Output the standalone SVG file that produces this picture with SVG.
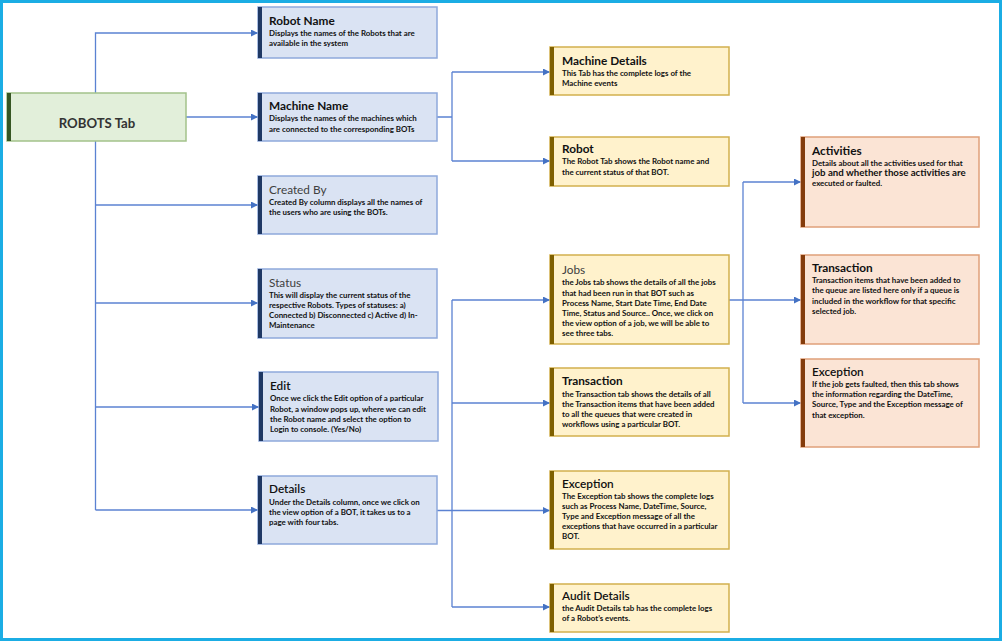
<svg xmlns="http://www.w3.org/2000/svg" width="1003" height="642" viewBox="0 0 1003 642">
<defs>
<marker id="arr" markerUnits="userSpaceOnUse" markerWidth="8" markerHeight="8" refX="7" refY="3.5" orient="auto">
<path d="M0,0 L7,3.5 L0,7 z" fill="#4472C4"/>
</marker>
<style>
.frame{fill:#fff;stroke:#1BADE4;stroke-width:3}
.c1{fill:#DAE3F3;stroke:#8EA9DB;stroke-width:1.5}
.b1{fill:#1F3864}
.c2{fill:#FFF2CC;stroke:#D2B04E;stroke-width:1.5}
.b2{fill:#7F6000}
.c3{fill:#FBE4D5;stroke:#E0A07A;stroke-width:1.5}
.b3{fill:#843C0C}
.c0{fill:#E2EFDA;stroke:#A3C28A;stroke-width:1.5}
.b0{fill:#375623}
text{font-family:Lato,"Liberation Sans",sans-serif}
.t{font-size:11.8px;font-weight:bold;fill:#111}
.tm{font-size:11.8px;font-weight:600;fill:#111}
.tg{font-size:11.8px;font-weight:normal;fill:#404040}
.d{font-size:7.9px;font-weight:bold;fill:#111}
.root{font-size:13.2px;font-weight:bold;fill:#333}
.ln{fill:none;stroke:#5B82D2;stroke-width:1.3}
.ar{fill:none;stroke:#5B82D2;stroke-width:1.3;marker-end:url(#arr)}
</style>
</defs>
<rect class="frame" x="1.5" y="1.5" width="999" height="638"/>

<g id="connectors">
<path class="ar" d="M95.5,93 V33 H258"/>
<path class="ar" d="M186,117 H258"/>
<path class="ln" d="M95.5,141 V510"/>
<path class="ar" d="M95.5,205 H258"/>
<path class="ar" d="M95.5,303 H258"/>
<path class="ar" d="M95.5,407 H259"/>
<path class="ar" d="M95.5,510 H258"/>
<path class="ln" d="M437,117 H452 M452,72 V161"/>
<path class="ar" d="M452,72 H550"/>
<path class="ar" d="M452,161 H550"/>
<path class="ln" d="M437,510.5 H452 M452,300 V607"/>
<path class="ar" d="M452,300 H550"/>
<path class="ar" d="M452,403 H550"/>
<path class="ar" d="M452,510.5 H550"/>
<path class="ar" d="M452,607 H550"/>
<path class="ar" d="M729,300 H801"/>
<path class="ln" d="M743,182 V403"/>
<path class="ar" d="M743,182 H801"/>
<path class="ar" d="M743,403 H801"/>
</g>

<g id="robots-tab">
<rect class="c0" x="7" y="93" width="179" height="48"/>
<rect class="b0" x="7" y="93" width="4" height="48"/>
<text class="root" x="97" y="128" text-anchor="middle">ROBOTS Tab</text>
</g>

<g id="robot-name">
<rect class="c1" x="258" y="7" width="179" height="51"/>
<rect class="b1" x="258" y="7" width="4" height="51"/>
<text class="t" x="269" y="25">Robot Name</text>
<text class="d" x="269" y="36">Displays the names of the Robots that are</text>
<text class="d" x="269" y="46">available in the system</text>
</g>

<g id="machine-name">
<rect class="c1" x="258" y="93" width="179" height="48"/>
<rect class="b1" x="258" y="93" width="4" height="48"/>
<text class="t" x="269" y="110">Machine Name</text>
<text class="d" x="269" y="121">Displays the names of the machines which</text>
<text class="d" x="269" y="132">are connected to the corresponding BOTs</text>
</g>

<g id="created-by">
<rect class="c1" x="258" y="176" width="179" height="58"/>
<rect class="b1" x="258" y="176" width="4" height="58"/>
<text class="tg" x="269" y="194">Created By</text>
<text class="d" x="269" y="205">Created By column displays all the names of</text>
<text class="d" x="269" y="215">the users who are using the BOTs.</text>
</g>

<g id="status">
<rect class="c1" x="258" y="269" width="179" height="69"/>
<rect class="b1" x="258" y="269" width="4" height="69"/>
<text class="tg" x="269" y="287">Status</text>
<text class="d" x="269" y="298">This will display the current status of the</text>
<text class="d" x="269" y="308">respective Robots. Types of statuses: a)</text>
<text class="d" x="269" y="318">Connected b) Disconnected c) Active d)  In-</text>
<text class="d" x="269" y="328">Maintenance</text>
</g>

<g id="edit">
<rect class="c1" x="259" y="372" width="179" height="69"/>
<rect class="b1" x="259" y="372" width="4" height="69"/>
<text class="tm" x="270" y="390">Edit</text>
<text class="d" x="270" y="401">Once we click the Edit option of a particular</text>
<text class="d" x="270" y="411.5">Robot, a window pops up, where we can edit</text>
<text class="d" x="270" y="421.5">the Robot name and select the option to</text>
<text class="d" x="270" y="432">Login to console. (Yes/No)</text>
</g>

<g id="details">
<rect class="c1" x="258" y="476" width="179" height="68"/>
<rect class="b1" x="258" y="476" width="4" height="68"/>
<text class="tm" x="269" y="493">Details</text>
<text class="d" x="269" y="505">Under the Details column, once we click on</text>
<text class="d" x="269" y="515">the view option of a BOT, it takes us to a</text>
<text class="d" x="269" y="525">page with four tabs.</text>
</g>

<g id="machine-details">
<rect class="c2" x="550" y="47" width="179" height="48"/>
<rect class="b2" x="550" y="47" width="4" height="48"/>
<text class="t" x="562" y="65">Machine Details</text>
<text class="d" x="562" y="76">This Tab has the complete logs of the</text>
<text class="d" x="562" y="86">Machine events</text>
</g>

<g id="robot">
<rect class="c2" x="550" y="137" width="179" height="49"/>
<rect class="b2" x="550" y="137" width="4" height="49"/>
<text class="t" x="562" y="153">Robot</text>
<text class="d" x="562" y="164">The Robot Tab shows the Robot name and</text>
<text class="d" x="562" y="175">the current status of that BOT.</text>
</g>

<g id="jobs">
<rect class="c2" x="550" y="255" width="179" height="89"/>
<rect class="b2" x="550" y="255" width="4" height="89"/>
<text class="tg" x="562" y="274">Jobs</text>
<text class="d" x="562" y="285">the Jobs tab shows the details of all the jobs</text>
<text class="d" x="562" y="295.5">that had been run in that BOT such as</text>
<text class="d" x="562" y="306">Process Name, Start Date Time, End Date</text>
<text class="d" x="562" y="316">Time, Status and Source.. Once, we click on</text>
<text class="d" x="562" y="326">the view option of a job, we will be able to</text>
<text class="d" x="562" y="336">see three tabs.</text>
</g>

<g id="transaction">
<rect class="c2" x="550" y="368" width="179" height="68"/>
<rect class="b2" x="550" y="368" width="4" height="68"/>
<text class="t" x="562" y="385">Transaction</text>
<text class="d" x="562" y="397">the Transaction tab shows the details of all</text>
<text class="d" x="562" y="407">the Transaction items that have been added</text>
<text class="d" x="562" y="417">to all the queues that were created in</text>
<text class="d" x="562" y="427">workflows using a particular BOT.</text>
</g>

<g id="exception">
<rect class="c2" x="550" y="471" width="179" height="78"/>
<rect class="b2" x="550" y="471" width="4" height="78"/>
<text class="tm" x="562" y="488">Exception</text>
<text class="d" x="562" y="499">The Exception tab shows the complete logs</text>
<text class="d" x="562" y="509">such as Process Name, DateTime, Source,</text>
<text class="d" x="562" y="519">Type and Exception message of all the</text>
<text class="d" x="562" y="529">exceptions that have occurred in a particular</text>
<text class="d" x="562" y="539">BOT.</text>
</g>

<g id="audit-details">
<rect class="c2" x="550" y="584" width="179" height="48"/>
<rect class="b2" x="550" y="584" width="4" height="48"/>
<text class="tm" x="562" y="600">Audit Details</text>
<text class="d" x="562" y="611">the Audit Details tab has the complete logs</text>
<text class="d" x="562" y="621">of a Robot’s events.</text>
</g>

<g id="activities">
<rect class="c3" x="801" y="137" width="178" height="90"/>
<rect class="b3" x="801" y="137" width="4" height="90"/>
<text class="t" x="812" y="155">Activities</text>
<text class="d" x="812" y="166">Details about all the activities used for that</text>
<text class="d" x="812" y="176" style="font-size:9.7px">job and whether those activities are</text>
<text class="d" x="812" y="186">executed or faulted.</text>
</g>

<g id="job-transaction">
<rect class="c3" x="801" y="255" width="178" height="89"/>
<rect class="b3" x="801" y="255" width="4" height="89"/>
<text class="t" x="812" y="272">Transaction</text>
<text class="d" x="812" y="283">Transaction items that have been added to</text>
<text class="d" x="812" y="293">the queue are listed here only if a queue is</text>
<text class="d" x="812" y="304">included in the workflow for that specific</text>
<text class="d" x="812" y="314">selected job.</text>
</g>

<g id="job-exception">
<rect class="c3" x="801" y="359" width="178" height="88"/>
<rect class="b3" x="801" y="359" width="4" height="88"/>
<text class="tm" x="812" y="376">Exception</text>
<text class="d" x="812" y="387">If the job gets faulted, then this tab shows</text>
<text class="d" x="812" y="397">the information regarding the DateTime,</text>
<text class="d" x="812" y="407">Source, Type and the Exception message of</text>
<text class="d" x="812" y="418">that exception.</text>
</g>
</svg>
